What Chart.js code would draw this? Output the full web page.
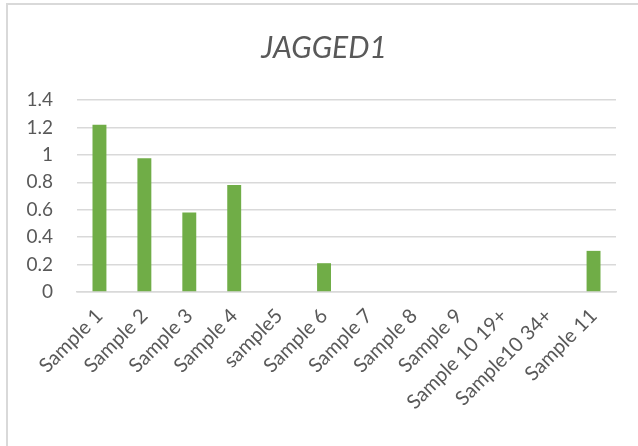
<!DOCTYPE html>
<html>
<head>
<meta charset="utf-8">
<script src="https://cdn.jsdelivr.net/npm/chart.js@4"></script>
<style>
  html, body { margin: 0; padding: 0; background: #fff; overflow: hidden; }
  #wrap { position: relative; width: 638px; height: 446px; overflow: hidden; }
  #frame { position: absolute; left: 6px; top: 3px; width: 640px; height: 450px; border-top: 2px solid #d9d9d9; border-left: 2px solid #d9d9d9; box-sizing: border-box; }
  canvas { position: absolute; left: 0; top: 0; }
</style>
</head>
<body>
<div id="wrap">
  <div id="frame"></div>
  <canvas id="jaggedChart" width="638" height="446"></canvas>
</div>
<script>
// JAGGED1 expression per sample
const categories = ['Sample 1', 'Sample 2', 'Sample 3', 'Sample 4', 'sample5', 'Sample 6',
    'Sample 7', 'Sample 8', 'Sample 9', 'Sample 10 19+', 'Sample10 34+', 'Sample 11'];
const jaggedValues = [1.22, 0.975, 0.58, 0.78, 0, 0.21, 0, 0, 0, 0, 0, 0.30];
const yTicks = [0, 0.2, 0.4, 0.6, 0.8, 1, 1.2, 1.4];

const textColor = '#595959';
const gridColor = '#d9d9d9';
const fontFamily = "Lato, 'Open Sans', sans-serif";

// nudge the title so it is centred on the whole frame, not the padded box
const titleShift = {
    id: 'titleShift',
    afterLayout(chart) {
        if (chart.titleBlock) {
            chart.titleBlock.left += 32;
        }
    }
};

const config = {
    type: 'bar',
    data: {
        labels: categories,
        datasets: [{
            label: 'JAGGED1',
            data: jaggedValues,
            backgroundColor: '#70ad47',
            borderWidth: 0,
            categoryPercentage: 1,
            barPercentage: 0.31
        }]
    },
    options: {
        responsive: false,
        animation: false,
        layout: { padding: { left: 0, right: 22, top: 0, bottom: 0 } },
        plugins: {
            legend: { display: false },
            tooltip: { enabled: false },
            title: {
                display: true,
                text: 'JAGGED1',
                color: textColor,
                font: { family: fontFamily, size: 30, style: 'italic', weight: 'normal' },
                padding: { top: 30, bottom: 34 }
            }
        },
        scales: {
            x: {
                grid: { display: false, drawTicks: false },
                border: { color: gridColor, width: 1.5 },
                ticks: {
                    color: textColor,
                    font: { family: fontFamily, size: 20 },
                    minRotation: 45,
                    maxRotation: 45,
                    autoSkip: false,
                    padding: 12
                },
                afterFit: function(scale) { scale.height = 154; }
            },
            y: {
                min: 0,
                max: 1.4,
                afterBuildTicks: function(scale) {
                    scale.ticks = yTicks.map(v => ({ value: v }));
                },
                grid: { color: gridColor, lineWidth: 1.5, drawTicks: false },
                border: { display: false },
                ticks: {
                    color: textColor,
                    font: { family: fontFamily, size: 19 },
                    padding: 24,
                    callback: function(value) { return String(value); }
                },
                afterFit: function(scale) { scale.width = 77; }
            }
        }
    },
    plugins: [titleShift]
};

document.addEventListener('DOMContentLoaded', function() {
    new Chart(document.getElementById('jaggedChart'), config);
});
</script>
</body>
</html>
